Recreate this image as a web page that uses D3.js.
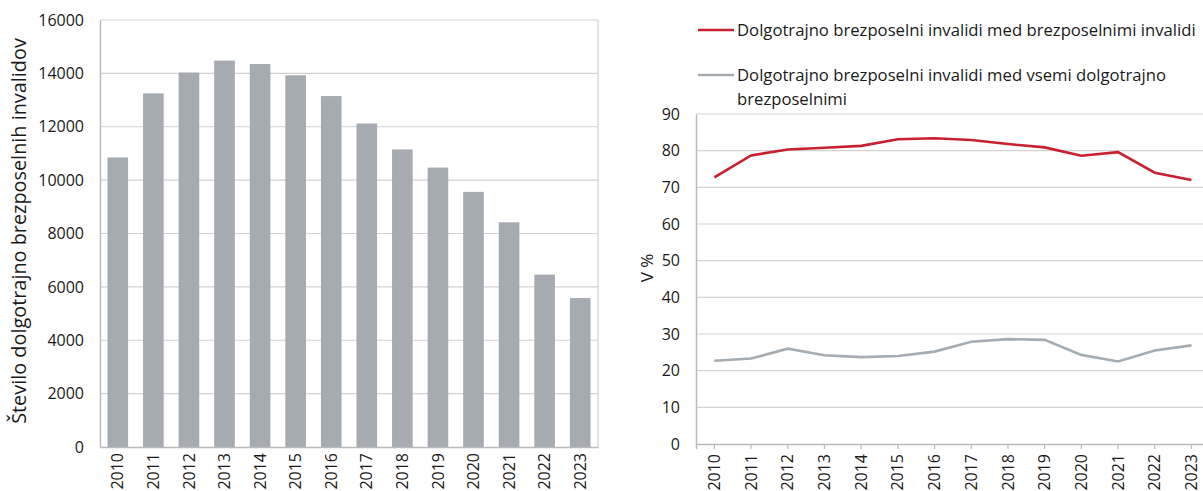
<!DOCTYPE html>
<html>
<head>
<meta charset="utf-8">
<script src="https://cdn.jsdelivr.net/npm/d3@7"></script>
<style>
  body { margin: 0; background: #fff; }
  svg { display: block; font-family: "Open Sans", sans-serif; }
</style>
</head>
<body>
<div id="chart"></div>
<script>
const years = ['2010','2011','2012','2013','2014','2015','2016','2017','2018','2019','2020','2021','2022','2023'];
const countLongTerm = [10850, 13250, 14030, 14480, 14350, 13930, 13150, 12120, 11150, 10470, 9560, 8420, 6460, 5580];
const shareOfDisabled = [72.7, 78.7, 80.3, 80.8, 81.3, 83.1, 83.4, 82.9, 81.8, 80.9, 78.6, 79.6, 74.0, 72.0];
const shareOfLongTerm = [22.7, 23.3, 26.0, 24.2, 23.7, 24.0, 25.2, 27.9, 28.6, 28.4, 24.3, 22.5, 25.5, 26.9];
const leftTicks = [0, 2000, 4000, 6000, 8000, 10000, 12000, 14000, 16000];
const rightTicks = [0, 10, 20, 30, 40, 50, 60, 70, 80, 90];
const legendLabels = [
  ['Dolgotrajno brezposelni invalidi med brezposelnimi invalidi'],
  ['Dolgotrajno brezposelni invalidi med vsemi dolgotrajno', 'brezposelnimi']
];

const W = 1203, H = 491;
const svg = d3.select('#chart').append('svg').attr('width', W).attr('height', H);

const gridCol = '#d2d2d2', axisCol = '#bababa', textCol = '#1a1a1a';
const barCol = '#a5abb0', redCol = '#c8202f', greyCol = '#a5acb2';
const tickFont = 16;

// ---- left chart: bars
const L = {x0: 100, x1: 598, y0: 447, y1: 20};
const xL = d3.scaleBand().domain(years).range([L.x0, L.x1]).paddingInner(0.42).paddingOuter(0.21);
const yL = d3.scaleLinear().domain([0, 16000]).range([L.y0, L.y1]);

const gl = svg.append('g');
gl.append('g').selectAll('line').data(leftTicks.slice(1)).join('line')
  .attr('x1', L.x0).attr('x2', L.x1)
  .attr('y1', d => yL(d)).attr('y2', d => yL(d))
  .attr('stroke', gridCol).attr('stroke-width', 1.2);
gl.append('line').attr('x1', L.x1).attr('x2', L.x1).attr('y1', L.y1).attr('y2', L.y0)
  .attr('stroke', gridCol).attr('stroke-width', 1.2);

gl.append('g').selectAll('rect').data(countLongTerm).join('rect')
  .attr('x', (d, i) => xL(years[i]))
  .attr('width', xL.bandwidth())
  .attr('y', d => yL(d))
  .attr('height', d => yL(0) - yL(d))
  .attr('fill', barCol);

const axL = gl.append('g').attr('transform', `translate(${L.x0},0)`)
  .call(d3.axisLeft(yL).tickValues(leftTicks).tickSize(0).tickPadding(16).tickFormat(d3.format('d')));
axL.select('.domain').attr('stroke', axisCol).attr('stroke-width', 1.5);
axL.selectAll('text').attr('font-size', tickFont).attr('fill', textCol).attr('font-family', '"Open Sans", sans-serif');

const axLB = gl.append('g').attr('transform', `translate(0,${L.y0})`)
  .call(d3.axisBottom(xL).tickSize(0).tickPadding(0));
axLB.select('.domain').attr('stroke', axisCol).attr('stroke-width', 1.5);
axLB.selectAll('text')
  .attr('font-size', tickFont).attr('fill', textCol).attr('font-family', '"Open Sans", sans-serif')
  .attr('transform', 'rotate(-90)').attr('text-anchor', 'end')
  .attr('x', -6).attr('y', 0).attr('dy', '0.35em');

// axis title, sized to span the same length as in the original
const titleL = gl.append('text')
  .attr('transform', `translate(19,${231}) rotate(-90)`)
  .attr('text-anchor', 'middle').attr('dy', '0.35em').attr('font-size', 16).attr('fill', textCol)
  .text('Število dolgotrajno brezposelnih invalidov');
const tl = titleL.node().getComputedTextLength();
titleL.attr('font-size', 16 * 386 / tl);

// ---- right chart: lines
const R = {x0: 696, x1: 696 + 14 * 36.7, y0: 444, y1: 114};
const xR = d3.scaleBand().domain(years).range([R.x0, R.x1]);
const yR = d3.scaleLinear().domain([0, 90]).range([R.y0, R.y1]);
const cx = y => xR(y) + xR.bandwidth() / 2;

const gr = svg.append('g');
gr.append('g').selectAll('line').data(rightTicks.slice(1)).join('line')
  .attr('x1', R.x0).attr('x2', R.x1)
  .attr('y1', d => yR(d)).attr('y2', d => yR(d))
  .attr('stroke', gridCol).attr('stroke-width', 1.2);

const axR = gr.append('g').attr('transform', `translate(${R.x0},0)`)
  .call(d3.axisLeft(yR).tickValues(rightTicks).tickSize(0).tickPadding(16));
axR.select('.domain').attr('stroke', axisCol).attr('stroke-width', 1.5);
axR.selectAll('text').attr('font-size', tickFont).attr('fill', textCol).attr('font-family', '"Open Sans", sans-serif');

const axRB = gr.append('g').attr('transform', `translate(0,${R.y0})`)
  .call(d3.axisBottom(xR).tickSize(5).tickPadding(0));
axRB.select('.domain').attr('stroke', axisCol).attr('stroke-width', 1.5);
axRB.selectAll('.tick line').attr('stroke', axisCol).attr('stroke-width', 1.2);
axRB.selectAll('text')
  .attr('font-size', tickFont).attr('fill', textCol).attr('font-family', '"Open Sans", sans-serif')
  .attr('transform', 'rotate(-90)').attr('text-anchor', 'end')
  .attr('x', -10).attr('y', 0).attr('dy', '0.35em');

gr.append('text')
  .attr('transform', `translate(647,268) rotate(-90)`)
  .attr('text-anchor', 'middle').attr('dy', '0.35em').attr('font-size', 17).attr('fill', textCol)
  .text('V %');

const line = d3.line().x((d, i) => cx(years[i])).y(d => yR(d));
gr.append('path').datum(shareOfLongTerm).attr('d', line)
  .attr('fill', 'none').attr('stroke', greyCol).attr('stroke-width', 2.6);
gr.append('path').datum(shareOfDisabled).attr('d', line)
  .attr('fill', 'none').attr('stroke', redCol).attr('stroke-width', 2.6);

// legend
const legendY = [30, 75];
const legendCols = [redCol, greyCol];
const legendTexts = [];
legendLabels.forEach((lines, i) => {
  const g = svg.append('g').attr('transform', `translate(698,${legendY[i]})`);
  g.append('line').attr('x1', 0).attr('x2', 36).attr('y1', 0).attr('y2', 0)
    .attr('stroke', legendCols[i]).attr('stroke-width', 2.6);
  lines.forEach((t, k) => {
    legendTexts.push(g.append('text').attr('x', 39).attr('y', k * 24).attr('dy', '0.35em')
      .attr('font-size', 17).attr('fill', textCol).text(t));
  });
});
// fit the longest legend line inside the window
const lw = legendTexts[0].node().getComputedTextLength();
const lf = Math.min(17, 17 * 459 / lw);
legendTexts.forEach(t => t.attr('font-size', lf));
</script>
</body>
</html>
